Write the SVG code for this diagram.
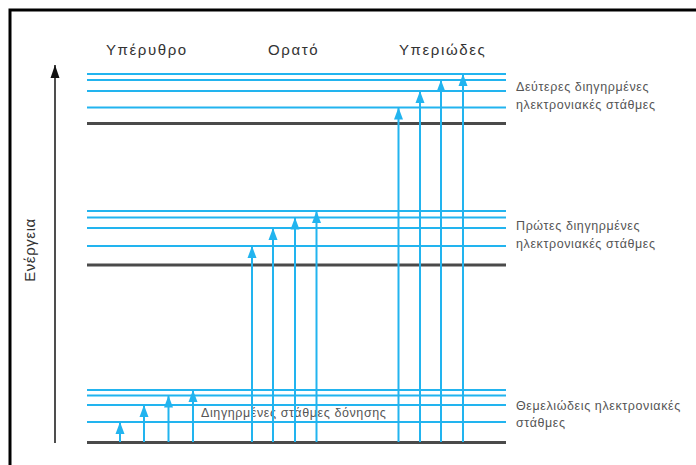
<svg xmlns="http://www.w3.org/2000/svg" width="696" height="465" viewBox="0 0 696 465">
<style>
.bl{stroke:#22b4ef;stroke-width:2;fill:none}
.bk{stroke:#4a4a4a;stroke-width:3;fill:none}
.ar{stroke:#22b4ef;stroke-width:2;fill:none;marker-end:url(#ah)}
.hd{font-family:"Liberation Sans",Arial,sans-serif;font-size:15px;letter-spacing:1.6px;fill:#333}
.lb{font-family:"Liberation Sans",Arial,sans-serif;font-size:12.5px;letter-spacing:0.6px;fill:#555}
</style>
<defs>
<marker id="ah" markerUnits="userSpaceOnUse" markerWidth="9" markerHeight="12" refX="4.5" refY="0" orient="0" viewBox="0 0 9 12" overflow="visible">
<path d="M4.5,0 L9,12 L0,12 Z" fill="#22b4ef"/>
</marker>
<marker id="ak" markerUnits="userSpaceOnUse" markerWidth="9" markerHeight="13" refX="4.5" refY="0" orient="0" viewBox="0 0 9 13" overflow="visible">
<path d="M4.5,0 L9,13 L0,13 Z" fill="#111"/>
</marker>
</defs>
<rect width="696" height="465" fill="#fff"/>
<rect x="10" y="10" width="700" height="470" fill="none" stroke="#000" stroke-width="3"/>
<g id="axis">
<line x1="55" y1="443" x2="55" y2="65" stroke="#222" stroke-width="1.6" marker-end="url(#ak)"/>
<text class="hd" transform="translate(35,250) rotate(-90)" text-anchor="middle" style="letter-spacing:0.6px">Ενέργεια</text>
</g>
<g id="headers">
<text class="hd" x="106" y="55">Υπέρυθρο</text>
<text class="hd" x="268" y="55">Ορατό</text>
<text class="hd" x="399" y="55">Υπεριώδες</text>
</g>
<g id="second-excited">
<line class="bl" x1="87" y1="74" x2="506" y2="74"/>
<line class="bl" x1="87" y1="80" x2="506" y2="80"/>
<line class="bl" x1="87" y1="91" x2="506" y2="91"/>
<line class="bl" x1="87" y1="107.5" x2="506" y2="107.5"/>
<line class="bk" x1="87" y1="123.5" x2="506" y2="123.5"/>
<text class="lb" x="516" y="91">Δεύτερες διηγηρμένες</text>
<text class="lb" x="516" y="109">ηλεκτρονιακές στάθμες</text>
</g>
<g id="first-excited">
<line class="bl" x1="87" y1="211" x2="506" y2="211"/>
<line class="bl" x1="87" y1="217.5" x2="506" y2="217.5"/>
<line class="bl" x1="87" y1="228" x2="506" y2="228"/>
<line class="bl" x1="87" y1="246" x2="506" y2="246"/>
<line class="bk" x1="87" y1="265" x2="506" y2="265"/>
<text class="lb" x="516" y="230">Πρώτες διηγηρμένες</text>
<text class="lb" x="516" y="248">ηλεκτρονιακές στάθμες</text>
</g>
<g id="ground">
<line class="bl" x1="87" y1="390" x2="506" y2="390"/>
<line class="bl" x1="87" y1="395.5" x2="506" y2="395.5"/>
<line class="bl" x1="87" y1="405" x2="506" y2="405"/>
<line class="bl" x1="87" y1="422" x2="506" y2="422"/>
<line class="bk" x1="87" y1="442.5" x2="506" y2="442.5"/>
<text class="lb" x="516" y="410">Θεμελιώδεις ηλεκτρονιακές</text>
<text class="lb" x="516" y="427">στάθμες</text>
<text class="lb" x="201" y="417">Διηγηρμένες στάθμες δόνησης</text>
</g>
<g id="connectors">
<line class="ar" x1="120" y1="442" x2="120" y2="422"/>
<line class="ar" x1="144" y1="442" x2="144" y2="405"/>
<line class="ar" x1="168.5" y1="442" x2="168.5" y2="395.5"/>
<line class="ar" x1="193" y1="442" x2="193" y2="390"/>
<line class="ar" x1="252" y1="442" x2="252" y2="246"/>
<line class="ar" x1="273" y1="442" x2="273" y2="228"/>
<line class="ar" x1="295" y1="442" x2="295" y2="217.5"/>
<line class="ar" x1="316.5" y1="442" x2="316.5" y2="211"/>
<line class="ar" x1="398.5" y1="442" x2="398.5" y2="107.5"/>
<line class="ar" x1="420" y1="442" x2="420" y2="91"/>
<line class="ar" x1="441" y1="442" x2="441" y2="80"/>
<line class="ar" x1="463" y1="442" x2="463" y2="74"/>
</g>
</svg>
